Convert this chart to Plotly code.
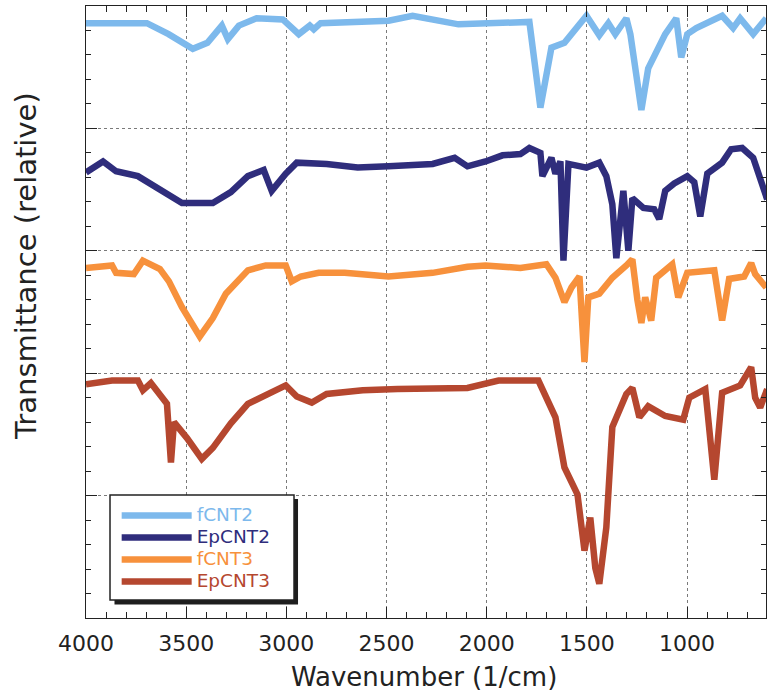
import plotly.graph_objects as go

# FTIR spectra (wavenumber in 1/cm, stacked relative transmittance)
wn_fcnt2 = [4000, 3696, 3588, 3467, 3394, 3322, 3292, 3237, 3148, 3018, 2938, 2883, 2863, 2829,
            2490, 2370, 2141, 1787, 1732, 1677, 1612, 1547, 1502, 1438, 1393, 1358, 1303, 1283,
            1228, 1194, 1109, 1054, 1029, 999, 954, 825, 770, 735, 670, 605]
t_fcnt2 = [4.86, 4.86, 4.77, 4.65, 4.70, 4.84, 4.73, 4.84, 4.90, 4.89, 4.77, 4.84, 4.81, 4.86,
           4.88, 4.92, 4.85, 4.87, 4.17, 4.66, 4.70, 4.82, 4.92, 4.76, 4.86, 4.77, 4.90, 4.77,
           4.15, 4.49, 4.77, 4.90, 4.58, 4.77, 4.82, 4.92, 4.82, 4.90, 4.77, 4.90]

wn_epcnt2 = [4000, 3915, 3850, 3741, 3521, 3367, 3277, 3192, 3113, 3073, 3003, 2948, 2799, 2644,
             2490, 2270, 2160, 2096, 2006, 1921, 1832, 1787, 1732, 1722, 1677, 1657, 1632, 1617,
             1592, 1502, 1438, 1403, 1373, 1353, 1318, 1293, 1273, 1218, 1164, 1139, 1109, 1064,
             999, 964, 934, 899, 825, 780, 725, 670, 600]
t_epcnt2 = [3.64, 3.73, 3.65, 3.61, 3.39, 3.39, 3.48, 3.61, 3.66, 3.49, 3.63, 3.72, 3.71, 3.68,
            3.69, 3.71, 3.76, 3.69, 3.73, 3.78, 3.79, 3.84, 3.80, 3.61, 3.76, 3.63, 3.73, 2.92,
            3.71, 3.68, 3.72, 3.61, 3.38, 2.94, 3.49, 3.00, 3.43, 3.35, 3.34, 3.26, 3.49, 3.55,
            3.61, 3.56, 3.28, 3.63, 3.72, 3.83, 3.84, 3.76, 3.42]

wn_fcnt3 = [4000, 3870, 3850, 3761, 3716, 3631, 3586, 3521, 3432, 3367, 3302, 3192, 3103, 3003,
            2973, 2928, 2839, 2709, 2490, 2270, 2096, 2006, 1832, 1702, 1657, 1612, 1577, 1537,
            1512, 1493, 1438, 1373, 1303, 1273, 1248, 1228, 1209, 1179, 1154, 1074, 1044, 999,
            864, 825, 790, 715, 680, 660, 605]
t_fcnt3 = [2.86, 2.88, 2.82, 2.81, 2.92, 2.85, 2.75, 2.54, 2.30, 2.45, 2.65, 2.84, 2.88, 2.88,
           2.75, 2.79, 2.82, 2.82, 2.79, 2.82, 2.87, 2.88, 2.86, 2.89, 2.78, 2.58, 2.70, 2.79,
           2.09, 2.62, 2.65, 2.78, 2.88, 2.93, 2.60, 2.41, 2.62, 2.43, 2.78, 2.89, 2.62, 2.82,
           2.84, 2.43, 2.77, 2.79, 2.90, 2.81, 2.70]

wn_epcnt3 = [4000, 3870, 3741, 3716, 3676, 3596, 3576, 3561, 3496, 3422, 3367, 3277, 3192, 3083,
             3003, 2948, 2873, 2799, 2619, 2445, 2096, 1941, 1742, 1657, 1612, 1547, 1512, 1483,
             1458, 1438, 1403, 1373, 1303, 1273, 1238, 1194, 1109, 1019, 989, 909, 864, 825,
             735, 680, 660, 635, 600]
t_epcnt3 = [1.91, 1.94, 1.94, 1.86, 1.92, 1.75, 1.27, 1.60, 1.47, 1.30, 1.39, 1.59, 1.75, 1.84,
            1.90, 1.81, 1.76, 1.83, 1.86, 1.87, 1.88, 1.94, 1.94, 1.64, 1.23, 1.01, 0.55, 0.82,
            0.41, 0.28, 0.74, 1.56, 1.83, 1.88, 1.64, 1.73, 1.65, 1.62, 1.80, 1.87, 1.13, 1.84,
            1.90, 2.05, 1.80, 1.72, 1.87]

series_names = ["fCNT2", "EpCNT2", "fCNT3", "EpCNT3"]
series_colors = ["#7db9ec", "#2f2d7c", "#f7913c", "#b5472f"]
series_x = [wn_fcnt2, wn_epcnt2, wn_fcnt3, wn_epcnt3]
series_y = [t_fcnt2, t_epcnt2, t_fcnt3, t_epcnt3]

FONT = "DejaVu Sans"
INK = "#222222"

fig = go.Figure()
for name, color, xs, ys in zip(series_names, series_colors, series_x, series_y):
    fig.add_trace(go.Scatter(
        x=xs, y=ys, mode="lines", line=dict(color=color, width=6.5),
        name=f'<span style="color:{color};font-size:18.5px">{name}</span>',
    ))

axis_common = dict(
    showline=True, linecolor=INK, linewidth=1.3, mirror="allticks",
    ticks="inside", tickcolor=INK, tickwidth=1.2, ticklen=11,
    showgrid=True, gridcolor="#7a7a7a", gridwidth=1, griddash="dot",
    zeroline=False,
)

fig.update_xaxes(
    range=[4000, 606], tickmode="linear", tick0=1000, dtick=500,
    tickfont=dict(family=FONT, size=22, color=INK), ticklabelstandoff=5,
    minor=dict(dtick=100, ticks="inside", ticklen=6, tickcolor=INK, showgrid=False),
    **axis_common,
)
fig.update_yaxes(
    range=[0, 5], tickmode="linear", tick0=0, dtick=1, showticklabels=False,
    minor=dict(dtick=0.2, ticks="inside", ticklen=5, tickcolor=INK, showgrid=False),
    **axis_common,
)

# legend frame with drop shadow
fig.add_shape(type="rect", xref="paper", yref="paper", layer="above",
              x0=0.0419, x1=0.3118, y0=0.0221, y1=0.1944,
              fillcolor="#1e1e1e", line=dict(width=0))
fig.add_shape(type="rect", xref="paper", yref="paper", layer="above",
              x0=0.0353, x1=0.3059, y0=0.0294, y1=0.2010,
              fillcolor="white", line=dict(color=INK, width=1.5))

fig.add_annotation(text="Wavenumber (1/cm)", xref="paper", yref="paper",
                   x=0.497, y=-0.0964, xanchor="center", yanchor="middle",
                   showarrow=False, font=dict(family=FONT, size=26, color=INK))
fig.add_annotation(text="Transmittance (relative)", xref="paper", yref="paper",
                   x=-0.0882, y=0.575, xanchor="center", yanchor="middle", textangle=-90,
                   showarrow=False, font=dict(family=FONT, size=29, color=INK))

fig.update_layout(
    width=769, height=698,
    margin=dict(l=86, r=3, t=6, b=80),
    paper_bgcolor="white", plot_bgcolor="white",
    showlegend=True,
    legend=dict(x=0.0451, y=0.1935, xanchor="left", yanchor="top",
                bgcolor="rgba(0,0,0,0)", borderwidth=0, itemwidth=70,
                tracegroupgap=0, font=dict(family=FONT, size=14.615, color=INK)),
)

fig.write_html("out.html")
